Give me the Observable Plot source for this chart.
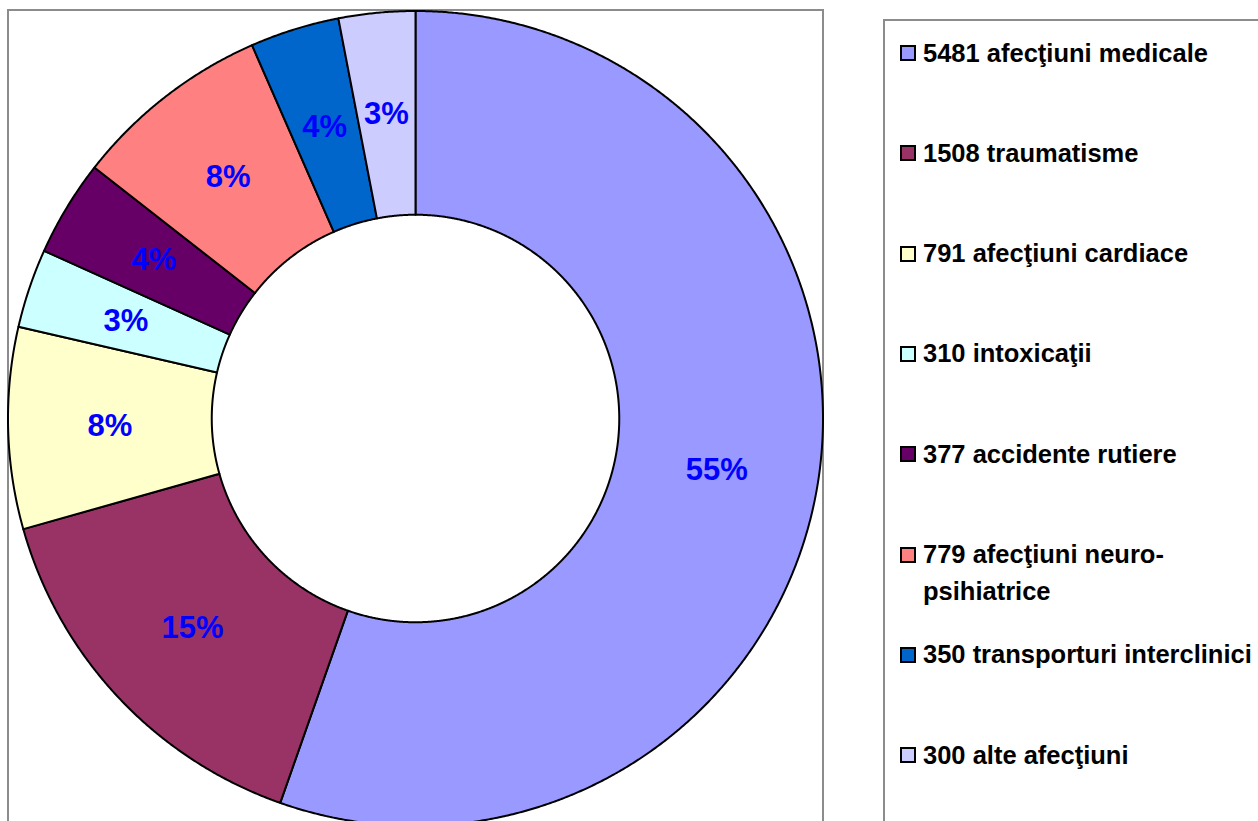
<!DOCTYPE html>
<html>
<head>
<meta charset="utf-8">
<script src="https://cdn.jsdelivr.net/npm/d3@7"></script>
<script src="https://cdn.jsdelivr.net/npm/@observablehq/plot@0.6"></script>
<style>
  html, body { margin: 0; padding: 0; background: #fff; overflow: hidden; }
  #page { position: relative; width: 1258px; height: 821px; overflow: hidden;
          font-family: "Liberation Sans", Arial, sans-serif; }
  #plotBorder { position: absolute; left: 7px; top: 9px; width: 813px; height: 900px;
                border: 2px solid #8c8c8c; }
  #legendBorder { position: absolute; left: 883px; top: 19px; width: 500px; height: 900px;
                  border: 2px solid #8c8c8c; }
  #chart { position: absolute; left: 0; top: 0; }
  #chart svg { background: transparent; max-width: none; }
  .item { position: absolute; left: 923px; width: 335px; font-size: 25.5px; font-weight: bold;
          line-height: 37px; color: #000; }
  .sw { position: absolute; left: 900px; width: 12px; height: 12px; border: 2px solid #000; }
</style>
</head>
<body>
<div id="page">
  <div id="plotBorder"></div>
  <div id="legendBorder"></div>
  <div id="chart"></div>
</div>
<script>
// ---- data ----
const categories = [
  "5481 afecţiuni medicale",
  "1508 traumatisme",
  "791 afecţiuni cardiace",
  "310 intoxicaţii",
  "377 accidente rutiere",
  "779 afecţiuni neuro-psihiatrice",
  "350 transporturi interclinici",
  "300 alte afecţiuni"
];
const values = [5481, 1508, 791, 310, 377, 779, 350, 300];
const colors = ["#9999FF", "#993366", "#FFFFCC", "#CCFFFF", "#660066", "#FF8080", "#0066CC", "#CCCCFF"];

// ---- layout ----
const cx = 415, cy = 418, R = 407.5, holeRatio = 0.5;
const total = d3.sum(values);
const arcs = d3.pie().sort(null).startAngle(0).endAngle(2 * Math.PI)(values);

const rows = [];
const labels = [];
arcs.forEach((a, i) => {
  const name = categories[i];
  const fill = colors[i];
  const n = Math.max(4, Math.ceil((a.endAngle - a.startAngle) / (Math.PI / 720)));
  const pts = [];
  for (let k = 0; k <= n; k++) {
    const t = a.startAngle + (a.endAngle - a.startAngle) * k / n;
    pts.push([Math.sin(t), Math.cos(t)]);
  }
  for (let k = n; k >= 0; k--) {
    const t = a.startAngle + (a.endAngle - a.startAngle) * k / n;
    pts.push([holeRatio * Math.sin(t), holeRatio * Math.cos(t)]);
  }
  pts.push(pts[0]);
  pts.forEach(([x, y]) => rows.push({ name, fill, x, y }));
  const mid = (a.startAngle + a.endAngle) / 2;
  const rho = (1 + holeRatio) / 2;
  labels.push({ x: rho * Math.sin(mid), y: rho * Math.cos(mid),
                text: Math.round(values[i] / total * 100) + "%" });
});

const plot = Plot.plot({
  width: 830,
  height: 821,
  margin: 0,
  style: { background: "transparent", fontFamily: "Liberation Sans, Arial, sans-serif" },
  x: { domain: [-1, 1], range: [cx - R, cx + R], axis: null },
  y: { domain: [-1, 1], range: [cy + R, cy - R], axis: null },
  color: { type: "identity" },
  marks: [
    Plot.line(rows, { x: "x", y: "y", z: "name", fill: "fill", stroke: "#000",
                      strokeWidth: 2, strokeLinejoin: "round", curve: "linear" }),
    Plot.text(labels, { x: "x", y: "y", text: "text", fill: "#0000FF",
                        fontSize: 31, fontWeight: "bold",
                        fontFamily: "Liberation Sans, Arial, sans-serif" })
  ]
});
document.getElementById("chart").appendChild(plot);

// ---- legend ----
const page = document.getElementById("page");
const rowStart = 53, rowStep = 100.3;
categories.forEach((c, i) => {
  const yc = rowStart + i * rowStep;
  const sw = document.createElement("div");
  sw.className = "sw";
  sw.style.top = (yc - 8) + "px";
  sw.style.background = colors[i];
  page.appendChild(sw);
  const t = document.createElement("div");
  t.className = "item";
  t.style.top = (yc - 18.5) + "px";
  t.textContent = c;
  page.appendChild(t);
});
</script>
</body>
</html>
